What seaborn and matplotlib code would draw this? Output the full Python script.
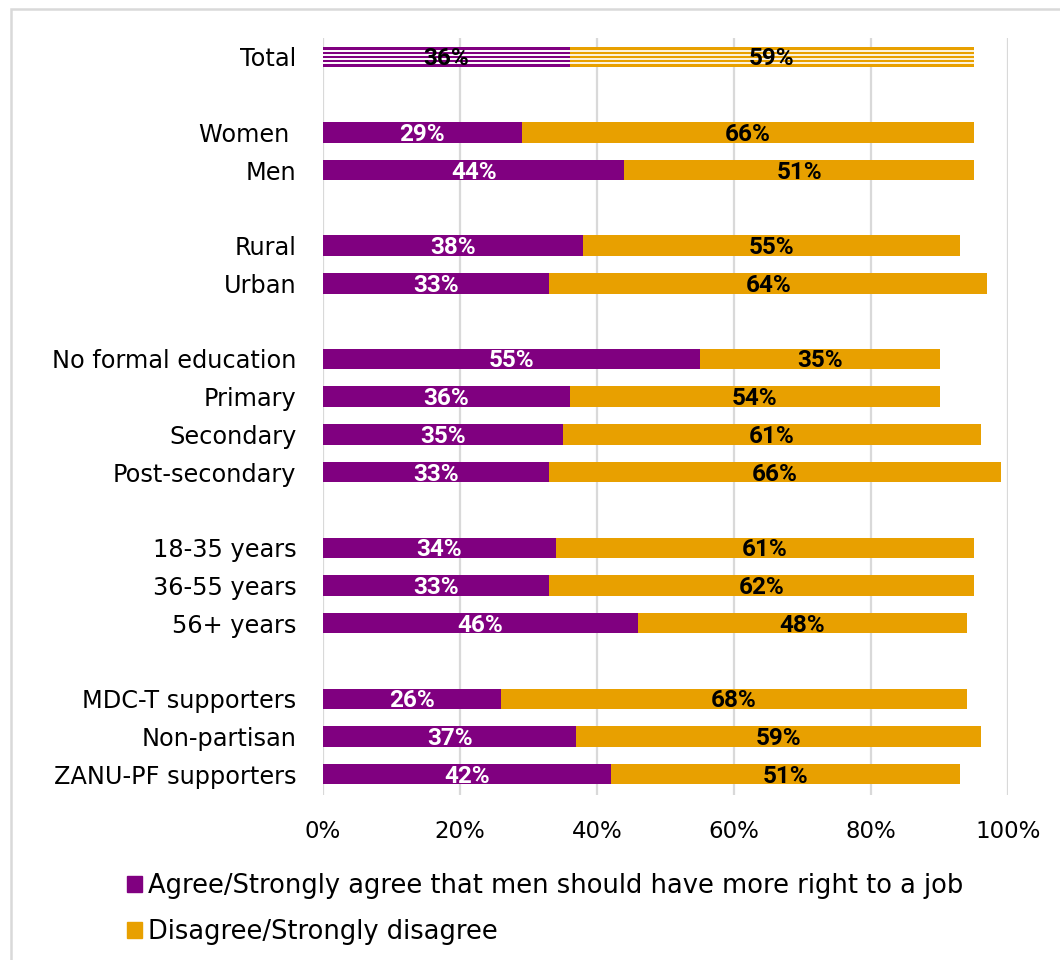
import matplotlib
matplotlib.use("Agg")
import matplotlib.pyplot as plt
from matplotlib import font_manager
from matplotlib.patches import Rectangle
import seaborn as sns
import pandas as pd

# Survey breakdown: share agreeing vs disagreeing that men should have more right to a job
groups = [
    ["Total"],
    ["Women ", "Men"],
    ["Rural", "Urban"],
    ["No formal education", "Primary", "Secondary", "Post-secondary"],
    ["18-35 years", "36-55 years", "56+ years"],
    ["MDC-T supporters", "Non-partisan", "ZANU-PF supporters"],
]
agree = [36, 29, 44, 38, 33, 55, 36, 35, 33, 34, 33, 46, 26, 37, 42]
disagree = [59, 66, 51, 55, 64, 35, 54, 61, 66, 61, 62, 48, 68, 59, 51]
x_ticks = [0, 20, 40, 60, 80, 100]
legend_labels = [
    "Agree/Strongly agree that men should have more right to a job",
    "Disagree/Strongly disagree",
]

PURPLE = "#800080"
ORANGE = "#E8A000"
GRID = "#D9D9D9"
N_STRIPES = 5


def pick_font(candidates):
    for name in candidates:
        try:
            font_manager.findfont(font_manager.FontProperties(family=name),
                                  fallback_to_default=False)
            return name
        except ValueError:
            continue
    return "DejaVu Sans"


value_family = pick_font(["Liberation Sans Narrow", "Roboto"])
value_size = 20.5 if value_family != "Roboto" else 17.5

# Row slots: one blank slot between groups
labels, pos = [], []
slot = 0
for g in groups:
    for name in g:
        labels.append(name)
        pos.append(slot)
        slot += 1
    slot += 1

df = pd.DataFrame({"label": labels, "pos": pos, "agree": agree, "disagree": disagree})
df["total"] = df["agree"] + df["disagree"]

sns.set_style("white")
plt.rcParams["font.family"] = ["DejaVu Sans"]
plt.rcParams["text.color"] = "black"

fig = plt.figure(figsize=(10.6, 9.6), dpi=100)
ax = fig.add_axes([323 / 1060, 1 - 795 / 960, 685 / 1060, (795 - 38) / 960])

# Stacked bars: full length in orange, agree share in purple on top
sns.barplot(data=df, x="total", y="pos", orient="h", native_scale=True,
            color=ORANGE, saturation=1, width=0.54, errorbar=None, ax=ax,
            linewidth=0)
sns.barplot(data=df, x="agree", y="pos", orient="h", native_scale=True,
            color=PURPLE, saturation=1, width=0.54, errorbar=None, ax=ax,
            linewidth=0)

# Total row: split each segment into horizontal stripes with thin white rules
for p in list(ax.patches):
    cy = p.get_y() + p.get_height() / 2
    if abs(cy - df["pos"].iloc[0]) < 0.01:
        y0, h = p.get_y(), p.get_height()
        x0, w = p.get_x(), p.get_width()
        rules = [y0 + h * k / N_STRIPES for k in range(1, N_STRIPES)]
        ax.hlines(rules, x0, x0 + w, colors="white", linewidth=1.25, zorder=2)

# Value labels centred in each segment
label_font = dict(family=[value_family, "DejaVu Sans"], fontweight="bold",
                  fontsize=value_size, zorder=3)
for i, r in df.iterrows():
    is_total = i == 0
    ax.text(r["agree"] / 2, r["pos"] + 0.05, f"{r['agree']}%", ha="center", va="center",
            color="black" if is_total else "white", **label_font)
    ax.text(r["agree"] + r["disagree"] / 2, r["pos"] + 0.05, f"{r['disagree']}%",
            ha="center", va="center", color="black", **label_font)

ax.set_xlim(0, 100)
ax.set_ylim(slot - 1 - 0.45, -0.5)
ax.set_xticks(x_ticks)
ax.set_xticklabels([f"{t}%" for t in x_ticks])
ax.set_yticks(df["pos"])
ax.set_yticklabels(df["label"])
ax.set_xlabel("")
ax.set_ylabel("")
ax.tick_params(axis="both", length=0, labelsize=17.3, colors="black")
ax.tick_params(axis="y", pad=19)
ax.tick_params(axis="x", pad=18, labelsize=16.5)
ax.xaxis.grid(True, color=GRID, linewidth=1.6)
ax.set_axisbelow(True)
for s in ax.spines.values():
    s.set_visible(False)

# Legend below the plot
handles = [Rectangle((0, 0), 1, 1, color=PURPLE), Rectangle((0, 0), 1, 1, color=ORANGE)]
leg = fig.legend(handles, legend_labels, loc="upper left",
                 bbox_to_anchor=(127 / 1060, 1 - 873 / 960), frameon=False,
                 fontsize=18.5, handlelength=0.6, handleheight=0.6,
                 handletextpad=0.2, labelspacing=0.78, borderpad=0, borderaxespad=0)
for t in leg.get_texts():
    t.set_color("black")

# Light frame around the chart area
fig.patches.append(Rectangle((11 / 1060, -0.05), 1.2, 1 - 9 / 960 + 0.05,
                             transform=fig.transFigure, fill=False,
                             edgecolor=GRID, linewidth=1.8))

fig.savefig("out.png", dpi=100)
